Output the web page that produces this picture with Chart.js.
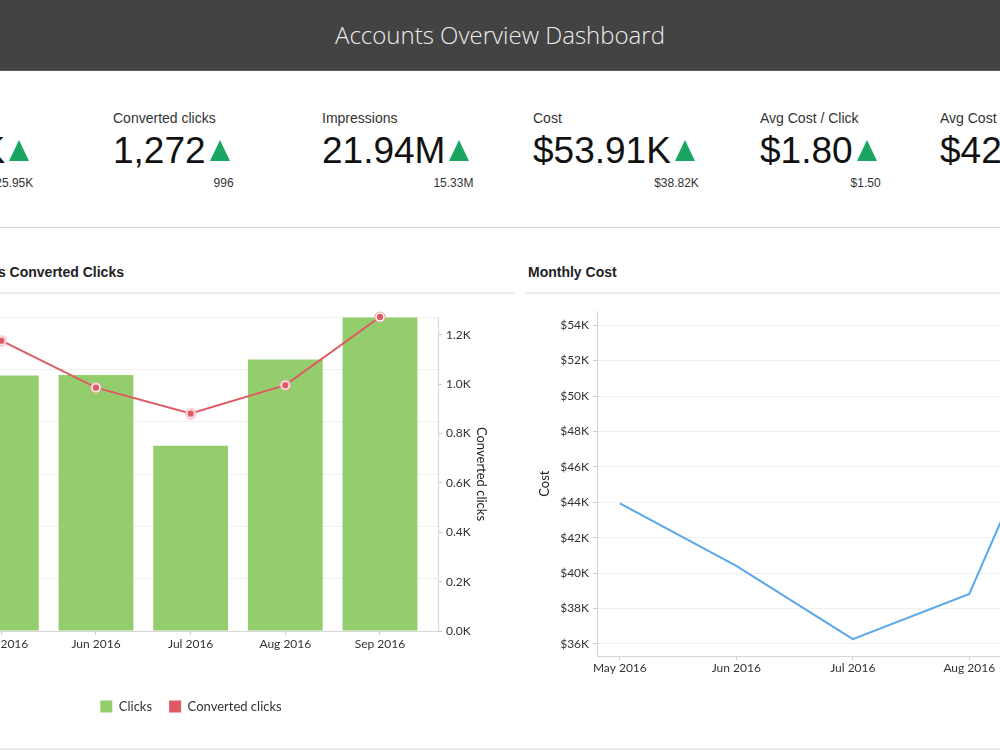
<!DOCTYPE html>
<html>
<head>
<meta charset="utf-8">
<script src="https://cdn.jsdelivr.net/npm/chart.js@4"></script>
<style>
  html, body { margin: 0; padding: 0; }
  body { width: 1000px; height: 750px; overflow: hidden; position: relative; background: #fff;
         font-family: "Liberation Sans", Arial, sans-serif; color: #222; }
  .header { position: absolute; left: 0; top: 0; width: 1000px; height: 70px; background: #434343;
            border-bottom: 1px solid #5c5c5c; color: #ececec; font-family: "Open Sans"; font-weight: 300;
            font-size: 24px; line-height: 70px; text-align: center; }
  .kpi { position: absolute; top: 110px; white-space: nowrap; }
  .kpi .label { font-size: 14px; line-height: 16px; color: #333; }
  .kpi .row { display: flex; align-items: flex-start; margin-top: 6px; height: 37px; }
  .kpi .value { font-size: 37px; line-height: 37px; color: #111; }
  .kpi .tri { width: 0; height: 0; border-left: 10px solid transparent; border-right: 10px solid transparent;
              border-bottom: 21px solid #1ba563; margin: 8px 0 0 4px; }
  .kpi .sub { font-size: 12px; line-height: 14px; color: #333; text-align: right; margin-right: -4px; margin-top: 7px; }
  .hline { position: absolute; height: 1px; background: #d2d2d2; }
  .ctitle { position: absolute; top: 264px; font-size: 14px; line-height: 16px; font-weight: bold; color: #222; white-space: nowrap; }
  .chartbox { position: absolute; }
</style>
</head>
<body>
<div class="header">Accounts Overview Dashboard</div>
<div id="kpis"></div>
<div class="hline" style="left:0;top:227px;width:1000px;"></div>

<div class="ctitle" style="left:-55px;">Clicks vs Converted Clicks</div>
<div class="hline" style="left:0;top:292px;width:515px;height:2px;background:#ebebeb;"></div>
<div class="ctitle" style="left:528px;">Monthly Cost</div>
<div class="hline" style="left:525px;top:292px;width:475px;height:2px;background:#ebebeb;"></div>
<div class="hline" style="left:0;top:748px;width:1000px;height:2px;background:#ececec;"></div>

<div class="chartbox" style="left:-134px;top:300px;width:650px;height:423px;"><canvas id="clicksChart"></canvas></div>
<div class="chartbox" style="left:525px;top:300px;width:587px;height:396px;"><canvas id="costChart"></canvas></div>

<script>
const kpiLabels = ['Clicks', 'Converted clicks', 'Impressions', 'Cost', 'Avg Cost / Click', 'Avg Cost / Conversion'];
const kpiValues = ['29.95K', '1,272', '21.94M', '$53.91K', '$1.80', '$42.38'];
const kpiPrev = ['25.95K', '996', '15.33M', '$38.82K', '$1.50', '$38.98'];

const months = ['May 2016', 'Jun 2016', 'Jul 2016', 'Aug 2016', 'Sep 2016'];
const clicks = [24420, 24450, 17690, 25950, 29950];
const convertedClicks = [1176, 986, 881, 996, 1272];
const cost = [43940, 40410, 36270, 38820, 53910];

const kpiLeft = [-112, 113, 322, 533, 760, 940];
const kpiBox = document.getElementById('kpis');
kpiLabels.forEach((label, i) => {
  const d = document.createElement('div');
  d.className = 'kpi';
  d.style.left = kpiLeft[i] + 'px';
  d.innerHTML = `<div class="label">${label}</div>
    <div class="row"><span class="value">${kpiValues[i]}</span><span class="tri"></span></div>
    <div class="sub">${kpiPrev[i]}</div>`;
  kpiBox.appendChild(d);
});

const tickFont = { family: 'Lato', size: 12 };
const axisColor = '#d6d6d6';
const gridColor = '#efefef';

// ring marker for the converted clicks points
const marker = document.createElement('canvas');
marker.width = 12; marker.height = 12;
const mctx = marker.getContext('2d');
[[5.6, '#f1a3a9'], [4.6, '#ffffff'], [3.2, '#e05a63']].forEach(([r, c]) => {
  mctx.beginPath(); mctx.arc(6, 6, r, 0, Math.PI * 2); mctx.fillStyle = c; mctx.fill();
});

// ticks every `step` inside the axis range, without the min/max bounds
const stepTicks = step => s => {
  s.ticks = [];
  for (let v = Math.ceil(s.min / step) * step; v <= s.max; v += step) s.ticks.push({ value: v });
};

new Chart(document.getElementById('clicksChart'), {
  data: {
    labels: months,
    datasets: [
      {
        type: 'bar', label: 'Clicks', data: clicks, yAxisID: 'y', order: 1,
        backgroundColor: '#93cd6c', barPercentage: 1, categoryPercentage: 0.79,
      },
      {
        type: 'line', label: 'Converted clicks', data: convertedClicks, yAxisID: 'y1', order: 0,
        borderColor: '#e05a63', backgroundColor: '#e05a63', borderWidth: 2, tension: 0,
        pointStyle: marker, pointRadius: 6, clip: false,
      },
    ],
  },
  options: {
    responsive: true,
    maintainAspectRatio: false,
    animation: false,
    layout: { padding: { top: 17 } },
    scales: {
      x: {
        afterBuildTicks: s => { s._startValue = -0.5; s._valueRange = 5.113; },
        grid: { drawOnChartArea: false, offset: false, tickLength: 4, color: '#cccccc' },
        border: { color: axisColor },
        ticks: { font: tickFont, color: '#333', padding: 2, maxRotation: 0, autoSkip: false },
        afterFit: s => { s.height = 52; },
      },
      y: {
        position: 'left', min: 0, max: 30000,
        afterBuildTicks: stepTicks(5000),
        ticks: { font: tickFont, color: '#333', callback: v => v / 1000 + 'K' },
        grid: { color: gridColor, tickLength: 4, tickColor: '#cccccc' },
        border: { color: axisColor },
        title: { display: true, text: 'Clicks', font: { family: 'Lato', size: 13 }, color: '#222' },
        afterFit: s => { s.width = 88; },
      },
      y1: {
        position: 'right', min: 0, max: 1272,
        afterBuildTicks: stepTicks(200),
        ticks: { font: tickFont, color: '#333', padding: 4, callback: v => (v / 1000).toFixed(1) + 'K' },
        grid: { drawOnChartArea: false, tickLength: 4, color: '#cccccc' },
        border: { color: axisColor },
        title: { display: true, text: 'Converted clicks', font: { family: 'Lato', size: 13 }, color: '#222',
                 padding: { top: 27 } },
        afterFit: s => { s.width = 78; },
      },
    },
    plugins: {
      tooltip: { enabled: false },
      legend: {
        position: 'bottom',
        labels: {
          font: { family: 'Lato', size: 13 }, color: '#333', boxWidth: 12, boxHeight: 12, padding: 17,
          sort: (a, b) => a.datasetIndex - b.datasetIndex,
          generateLabels: chart => Chart.defaults.plugins.legend.labels.generateLabels(chart)
            .map(l => ({ ...l, lineWidth: 0 })),
        },
      },
    },
  },
});

new Chart(document.getElementById('costChart'), {
  type: 'line',
  data: {
    labels: months,
    datasets: [{
      label: 'Cost', data: cost, borderColor: '#5aa8ea', borderWidth: 2, tension: 0,
      pointRadius: 0, clip: false,
    }],
  },
  options: {
    responsive: true,
    maintainAspectRatio: false,
    animation: false,
    layout: { padding: { top: 11 } },
    scales: {
      x: {
        afterBuildTicks: s => { s._startValue = -0.196; s._valueRange = 4.392; },
        grid: { drawOnChartArea: false, tickLength: 4, color: '#cccccc' },
        border: { color: axisColor },
        ticks: { font: tickFont, color: '#333', padding: 1, maxRotation: 0, autoSkip: false },
        afterFit: s => { s.height = 40; },
      },
      y: {
        min: 35320, max: 54790,
        afterBuildTicks: stepTicks(2000),
        ticks: { font: tickFont, color: '#333', padding: 4, callback: v => '$' + v / 1000 + 'K' },
        grid: { color: gridColor, tickLength: 4, tickColor: '#cccccc' },
        border: { color: axisColor },
        title: { display: true, text: 'Cost', font: { family: 'Lato', size: 13 }, color: '#222',
                 padding: { top: 12 } },
        afterFit: s => { s.width = 72; },
      },
    },
    plugins: {
      tooltip: { enabled: false },
      legend: { display: false },
    },
  },
});
</script>
</body>
</html>
